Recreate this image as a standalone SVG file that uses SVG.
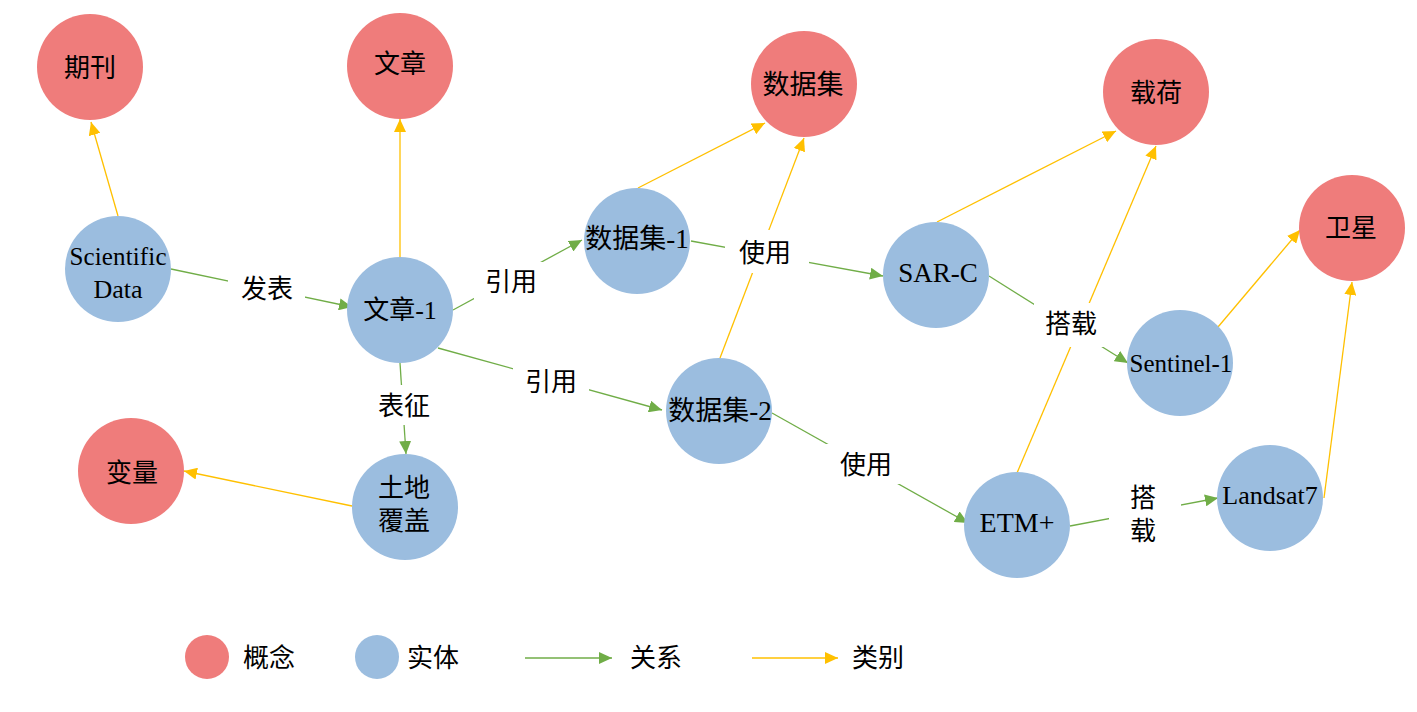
<svg xmlns="http://www.w3.org/2000/svg" width="1417" height="712" viewBox="0 0 1417 712">
<style>
.concept{fill:#EF7C7B}
.entity{fill:#9BBDDF}
.t{font-family:"Liberation Serif","Noto Sans CJK SC",serif;fill:#000;text-anchor:middle}
.rel{stroke:#70AD47;stroke-width:1.3;fill:none;marker-end:url(#ga)}
.cat{stroke:#FFC000;stroke-width:1.3;fill:none;marker-end:url(#ya)}
.lbg{fill:#fff}
</style>
<defs>
<marker id="ga" markerUnits="userSpaceOnUse" markerWidth="14" markerHeight="12" refX="13" refY="6" orient="auto"><path d="M0,0 L13,6 L0,12 Z" fill="#70AD47"/></marker>
<marker id="ya" markerUnits="userSpaceOnUse" markerWidth="14" markerHeight="12" refX="13" refY="6" orient="auto"><path d="M0,0 L13,6 L0,12 Z" fill="#FFC000"/></marker>
</defs>
<rect width="1417" height="712" fill="#fff"/>
<g id="connectors">
<line class="cat" x1="118" y1="216" x2="91" y2="122"/>
<line class="cat" x1="400" y1="257" x2="400" y2="119"/>
<line class="cat" x1="638" y1="188" x2="765" y2="123"/>
<line class="cat" x1="720" y1="358" x2="804" y2="138"/>
<line class="cat" x1="937" y1="222" x2="1116" y2="131"/>
<line class="cat" x1="1017" y1="473" x2="1156" y2="146"/>
<line class="cat" x1="1218" y1="327" x2="1300" y2="230"/>
<line class="cat" x1="1324" y1="498" x2="1352" y2="282"/>
<line class="cat" x1="352" y1="506" x2="184" y2="471"/>
<line class="rel" x1="171" y1="269" x2="352" y2="307"/>
<line class="rel" x1="453" y1="310" x2="582" y2="240"/>
<line class="rel" x1="438" y1="348" x2="662" y2="410"/>
<line class="rel" x1="400" y1="363" x2="406" y2="454"/>
<line class="rel" x1="691" y1="241" x2="883" y2="276"/>
<line class="rel" x1="772" y1="413" x2="968" y2="523"/>
<line class="rel" x1="989" y1="276" x2="1128" y2="363"/>
<line class="rel" x1="1070" y1="526" x2="1218" y2="498"/>
<g id="edge-labels">
<rect class="lbg" x="228" y="268" width="77" height="40"/>
<text class="t" x="267" y="298" font-size="26">发表</text>
<rect class="lbg" x="474" y="262" width="74" height="38"/>
<text class="t" x="511" y="291" font-size="26">引用</text>
<rect class="lbg" x="513" y="362" width="76" height="38"/>
<text class="t" x="551" y="391" font-size="26">引用</text>
<rect class="lbg" x="368" y="385" width="72" height="40"/>
<text class="t" x="404" y="415" font-size="26">表征</text>
<rect class="lbg" x="725" y="230" width="84" height="43"/>
<text class="t" x="765" y="262" font-size="26">使用</text>
<rect class="lbg" x="826" y="444" width="80" height="40"/>
<text class="t" x="866" y="474" font-size="26">使用</text>
<rect class="lbg" x="1034" y="303" width="70" height="44"/>
<text class="t" x="1071" y="333" font-size="26">搭载</text>
<rect class="lbg" x="1109" y="478" width="72" height="72"/>
<text class="t" x="1143" y="507" font-size="26">搭</text>
<text class="t" x="1143" y="540" font-size="26">载</text>
</g>
</g>
<g id="n-qikan"><circle class="concept" cx="90" cy="67" r="53"/><text class="t" x="90" y="77" font-size="26">期刊</text></g>
<g id="n-wenzhang"><circle class="concept" cx="400" cy="66" r="53"/><text class="t" x="400" y="73" font-size="26">文章</text></g>
<g id="n-shujuji"><circle class="concept" cx="804" cy="84" r="53"/><text class="t" x="803" y="94" font-size="27">数据集</text></g>
<g id="n-zaihe"><circle class="concept" cx="1156" cy="92" r="53"/><text class="t" x="1156" y="102" font-size="26">载荷</text></g>
<g id="n-weixing"><circle class="concept" cx="1352" cy="228" r="53"/><text class="t" x="1351" y="237" font-size="26">卫星</text></g>
<g id="n-bianliang"><circle class="concept" cx="131" cy="471" r="53"/><text class="t" x="132" y="482" font-size="26">变量</text></g>
<g id="n-scidata"><circle class="entity" cx="118" cy="269" r="53"/><text class="t" x="118" y="265" font-size="25" textLength="97">Scientific</text><text class="t" x="118" y="298" font-size="26">Data</text></g>
<g id="n-wenzhang1"><circle class="entity" cx="400" cy="310" r="53"/><text class="t" x="400" y="319" font-size="26">文章-1</text></g>
<g id="n-shujuji1"><circle class="entity" cx="637" cy="241" r="53"/><text class="t" x="637" y="248" font-size="27">数据集-1</text></g>
<g id="n-shujuji2"><circle class="entity" cx="719" cy="411" r="53"/><text class="t" x="720" y="420" font-size="27">数据集-2</text></g>
<g id="n-sarc"><circle class="entity" cx="936" cy="275" r="53"/><text class="t" x="938" y="282" font-size="27">SAR-C</text></g>
<g id="n-sentinel1"><circle class="entity" cx="1180" cy="363" r="53"/><text class="t" x="1181" y="372" font-size="25">Sentinel-1</text></g>
<g id="n-tudi"><circle class="entity" cx="405" cy="507" r="53"/><text class="t" x="404" y="497" font-size="26">土地</text><text class="t" x="404" y="530" font-size="26">覆盖</text></g>
<g id="n-etm"><circle class="entity" cx="1017" cy="525" r="53"/><text class="t" x="1017" y="532" font-size="28">ETM+</text></g>
<g id="n-landsat7"><circle class="entity" cx="1270" cy="498" r="53"/><text class="t" x="1270" y="504" font-size="26">Landsat7</text></g>
<g id="legend">
<circle class="concept" cx="207" cy="657" r="22"/>
<text class="t" x="269" y="667" font-size="26">概念</text>
<circle class="entity" cx="377" cy="657" r="22"/>
<text class="t" x="433" y="667" font-size="26">实体</text>
<line class="rel" x1="525" y1="658" x2="612" y2="658" stroke-width="2"/>
<text class="t" x="656" y="667" font-size="26">关系</text>
<line class="cat" x1="752" y1="658" x2="838" y2="658" stroke-width="2"/>
<text class="t" x="878" y="667" font-size="26">类别</text>
</g>
</svg>
